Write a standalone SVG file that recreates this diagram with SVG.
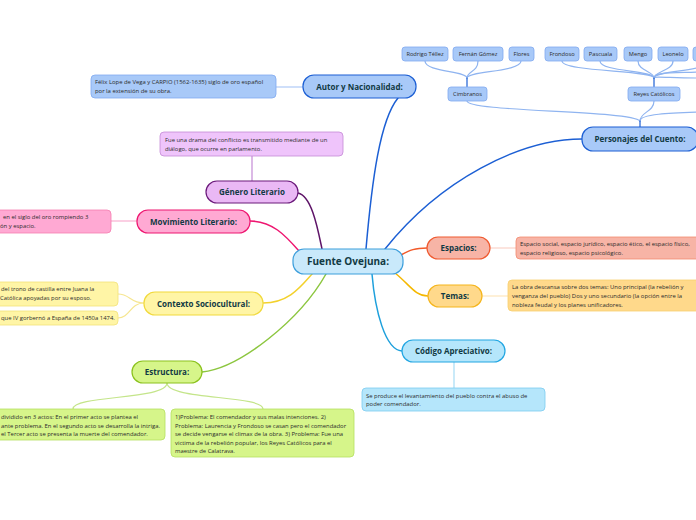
<svg xmlns="http://www.w3.org/2000/svg" width="696" height="520" viewBox="0 0 696 520">
<style>
text{font-family:"Open Sans","Liberation Sans",sans-serif;}
.h{font-weight:bold;font-size:8px;fill:#113a44;text-anchor:middle;}
.c{font-weight:bold;font-size:10px;fill:#113a44;text-anchor:middle;}
.t{font-size:5.9px;fill:#2b2b2b;}
.s{font-size:5.7px;fill:#2b2b2b;text-anchor:middle;}
.k{fill:none;stroke-linecap:round;}
</style>
<rect width="696" height="520" fill="#ffffff"/>
<g id="connectors" class="k">
  <path d="M366,249 C 372,180 380,120 398,98" stroke="#1c5fd4" stroke-width="1.5"/>
  <path d="M385,249 C 440,180 520,139 582,139" stroke="#1c5fd4" stroke-width="1.5"/>
  <path d="M298,193 C 312,196 318,230 322,249" stroke="#5e1468" stroke-width="1.5"/>
  <path d="M250,221 C 272,221 285,235 299,251" stroke="#ee1670" stroke-width="1.5"/>
  <path d="M263,303 C 290,303 302,285 313,273" stroke="#f3d12b" stroke-width="1.5"/>
  <path d="M202,372 C 240,368 300,320 326,274" stroke="#8cc63f" stroke-width="1.5"/>
  <path d="M401,255 C 410,250 415,248 427,248" stroke="#f25a2a" stroke-width="1.5"/>
  <path d="M395,273 C 410,285 415,296 428,296" stroke="#f5b800" stroke-width="1.5"/>
  <path d="M372,274 C 375,310 385,350 402,351" stroke="#1ea0dc" stroke-width="1.5"/>
  <path d="M276,87 L303,87" stroke="#9fc0f5" stroke-width="1.2"/>
  <path d="M252,156 L252,181" stroke="#c48ad6" stroke-width="1.2"/>
  <path d="M111,221 L137,221" stroke="#f7a0c8" stroke-width="1.2"/>
  <path d="M144,303 C 130,303 130,294 118,294" stroke="#f6e690" stroke-width="1.2"/>
  <path d="M144,303 C 130,303 130,318 118,318" stroke="#f6e690" stroke-width="1.2"/>
  <path d="M167,383 C 167,400 73,395 73,409" stroke="#c4e58a" stroke-width="1.2"/>
  <path d="M167,383 C 167,400 263,395 263,409" stroke="#c4e58a" stroke-width="1.2"/>
  <path d="M482,296 L508,296" stroke="#fde2b0" stroke-width="1.2"/>
  <path d="M490,248 L516,248" stroke="#f9c9bd" stroke-width="1.2"/>
  <path d="M454,362 L454,388" stroke="#a6dcf5" stroke-width="1.2"/>
  <path d="M467,101 C 467,112 630,110 640,121" stroke="#8fb4f0" stroke-width="1.2"/>
  <path d="M654,101 C 654,112 640,112 640,121" stroke="#8fb4f0" stroke-width="1.2"/>
  <path d="M700,112 C 670,113 640,114 640,121" stroke="#8fb4f0" stroke-width="1.2"/>
  <path d="M640,121 L640,127" stroke="#1c5fd4" stroke-width="1.2"/>
  <path d="M425,61 C 425,72 467,71 467,78" stroke="#8fb4f0" stroke-width="1.2"/>
  <path d="M478,61 C 478,72 467,71 467,78" stroke="#8fb4f0" stroke-width="1.2"/>
  <path d="M521,61 C 521,72 467,71 467,78" stroke="#8fb4f0" stroke-width="1.2"/>
  <path d="M467,78 L467,87" stroke="#1c5fd4" stroke-width="1.2"/>
  <path d="M562,61 C 562,72 654,70 654,78" stroke="#8fb4f0" stroke-width="1.2"/>
  <path d="M600,61 C 600,72 654,70 654,78" stroke="#8fb4f0" stroke-width="1.2"/>
  <path d="M638,61 C 638,71 654,71 654,78" stroke="#8fb4f0" stroke-width="1.2"/>
  <path d="M673,61 C 673,71 654,71 654,78" stroke="#8fb4f0" stroke-width="1.2"/>
  <path d="M708,61 C 708,72 654,70 654,78" stroke="#8fb4f0" stroke-width="1.2"/>
  <path d="M700,72 C 670,73 654,72 654,78" stroke="#8fb4f0" stroke-width="1.2"/>
  <path d="M700,78 C 670,78 654,76 654,78" stroke="#8fb4f0" stroke-width="1.2"/>
  <path d="M654,78 L654,87" stroke="#1c5fd4" stroke-width="1.2"/>
</g>
<g id="center">
  <rect x="293" y="249" width="110" height="25" rx="11" fill="#c9e9fb" stroke="#3d9fdc" stroke-width="1.2"/>
  <text class="c" x="348" y="265">Fuente Ovejuna:</text>
</g>
<g id="autor">
  <rect x="303" y="75" width="113" height="23" rx="11" fill="#a8c9f8" stroke="#1c5fd4" stroke-width="1.2"/>
  <text class="h" x="359.5" y="89.5">Autor y Nacionalidad:</text>
</g>
<g id="autor-detalle">
  <rect x="91" y="75" width="185" height="23" rx="4" fill="#a8c9f8" stroke="#80aaf0" stroke-width="0.8"/>
  <text class="t" x="95" y="84">Félix Lope de Vega y CARPIO (1562-1635) siglo de oro español</text>
  <text class="t" x="95" y="93">por la extensión de su obra.</text>
</g>
<g id="personajes">
  <rect x="582" y="127" width="116" height="24" rx="11" fill="#a8c9f8" stroke="#1c5fd4" stroke-width="1.2"/>
  <text class="h" x="640" y="142">Personajes del Cuento:</text>
</g>
<g id="cimbranos">
  <rect x="448" y="87" width="39" height="14" rx="3" fill="#a8c9f8" stroke="#80aaf0" stroke-width="0.8"/>
  <text class="s" x="467.5" y="96">Cimbranos</text>
</g>
<g id="reyes">
  <rect x="628" y="87" width="52" height="14" rx="3" fill="#a8c9f8" stroke="#80aaf0" stroke-width="0.8"/>
  <text class="s" x="654" y="96">Reyes Católicos</text>
</g>
<g id="rodrigo">
  <rect x="402" y="47" width="46" height="14" rx="3" fill="#a8c9f8" stroke="#80aaf0" stroke-width="0.8"/>
  <text class="s" x="425" y="56">Rodrigo Téllez</text>
</g>
<g id="fernan">
  <rect x="453" y="47" width="50" height="14" rx="3" fill="#a8c9f8" stroke="#80aaf0" stroke-width="0.8"/>
  <text class="s" x="478" y="56">Fernán Gómez</text>
</g>
<g id="flores">
  <rect x="509" y="47" width="25" height="14" rx="3" fill="#a8c9f8" stroke="#80aaf0" stroke-width="0.8"/>
  <text class="s" x="521.5" y="56">Flores</text>
</g>
<g id="frondoso">
  <rect x="545" y="47" width="34" height="14" rx="3" fill="#a8c9f8" stroke="#80aaf0" stroke-width="0.8"/>
  <text class="s" x="562" y="56">Frondoso</text>
</g>
<g id="pascuala">
  <rect x="584" y="47" width="33" height="14" rx="3" fill="#a8c9f8" stroke="#80aaf0" stroke-width="0.8"/>
  <text class="s" x="600.5" y="56">Pascuala</text>
</g>
<g id="mengo">
  <rect x="624" y="47" width="28" height="14" rx="3" fill="#a8c9f8" stroke="#80aaf0" stroke-width="0.8"/>
  <text class="s" x="638" y="56">Mengo</text>
</g>
<g id="leonelo">
  <rect x="658" y="47" width="30" height="14" rx="3" fill="#a8c9f8" stroke="#80aaf0" stroke-width="0.8"/>
  <text class="s" x="673" y="56">Leonelo</text>
</g>
<g id="otro">
  <rect x="693" y="47" width="30" height="14" rx="3" fill="#a8c9f8" stroke="#80aaf0" stroke-width="0.8"/>
</g>
<g id="genero">
  <rect x="206" y="181" width="92" height="22" rx="11" fill="#eab8f5" stroke="#6b1a7b" stroke-width="1.2"/>
  <text class="h" x="252" y="195">Género Literario</text>
</g>
<g id="genero-detalle">
  <rect x="160" y="132" width="183" height="24" rx="4" fill="#efc4fb" stroke="#c48ad6" stroke-width="0.8"/>
  <text class="t" x="165" y="141.5">Fue una drama del conflicto es transmitido mediante de un</text>
  <text class="t" x="165" y="150.5">diálogo, que ocurre en parlamento.</text>
</g>
<g id="movimiento">
  <rect x="137" y="210" width="113" height="23" rx="11" fill="#ffa9d3" stroke="#ee1670" stroke-width="1.2"/>
  <text class="h" x="193.5" y="224.5">Movimiento Literario:</text>
</g>
<g id="movimiento-detalle">
  <rect x="-80" y="210" width="191" height="23" rx="4" fill="#ffa9d3" stroke="#f57db0" stroke-width="0.8"/>
  <text class="t" x="3" y="218.5">en el siglo del oro rompiendo 3</text>
  <text class="t" x="0" y="227.5">ón y espacio.</text>
</g>
<g id="contexto">
  <rect x="144" y="292" width="119" height="23" rx="11" fill="#fff5a6" stroke="#f1d93c" stroke-width="1.2"/>
  <text class="h" x="203.5" y="306.5">Contexto Sociocultural:</text>
</g>
<g id="contexto-detalle-1">
  <rect x="-80" y="282" width="198" height="24" rx="4" fill="#fff5a6" stroke="#f3e27a" stroke-width="0.8"/>
  <text class="t" x="1" y="291">del trono de castilla entre Juana la</text>
  <text class="t" x="0" y="300">Católica apoyadas por su esposo.</text>
</g>
<g id="contexto-detalle-2">
  <rect x="-80" y="311" width="198" height="14" rx="4" fill="#fff5a6" stroke="#f3e27a" stroke-width="0.8"/>
  <text class="t" x="1" y="320">que IV gorbernó a España de 1450a 1474.</text>
</g>
<g id="estructura">
  <rect x="132" y="361" width="70" height="22" rx="11" fill="#d6f58a" stroke="#8bc21e" stroke-width="1.2"/>
  <text class="h" x="167" y="375">Estructura:</text>
</g>
<g id="estructura-detalle-1">
  <rect x="-100" y="409" width="265" height="31" rx="4" fill="#d6f58a" stroke="#b5df60" stroke-width="0.8"/>
  <text class="t" x="1" y="419">dividido en 3 actos: En el primer acto se plantea el</text>
  <text class="t" x="1" y="427.5">ante problema. En el segundo acto se desarrolla la intriga.</text>
  <text class="t" x="1" y="436">el Tercer acto se presenta la muerte del comendador.</text>
</g>
<g id="estructura-detalle-2">
  <rect x="171" y="409" width="183" height="48" rx="4" fill="#d6f58a" stroke="#b5df60" stroke-width="0.8"/>
  <text class="t" x="175" y="419">1)Problema: El comendador y sus malas intenciones. 2)</text>
  <text class="t" x="175" y="427.5">Problema: Laurencia y Frondoso se casan pero el comendador</text>
  <text class="t" x="175" y="436">se decide vengarse el climax de la obra. 3) Problema: Fue una</text>
  <text class="t" x="175" y="444.5">victima de la rebelión popular, los Reyes Católicos para el</text>
  <text class="t" x="175" y="453">maestre de Calatrava.</text>
</g>
<g id="espacios">
  <rect x="427" y="237" width="63" height="22" rx="11" fill="#f7b4a6" stroke="#ef5a30" stroke-width="1.2"/>
  <text class="h" x="458.5" y="251">Espacios:</text>
</g>
<g id="espacios-detalle">
  <rect x="516" y="237" width="200" height="22" rx="4" fill="#f7b4a6" stroke="#f38a70" stroke-width="0.8"/>
  <text class="t" x="520" y="245.5">Espacio social, espacio jurídico, espacio ético, el espacio físico,</text>
  <text class="t" x="520" y="254.5">espacio religioso, espacio psicológico.</text>
</g>
<g id="temas">
  <rect x="428" y="285" width="54" height="22" rx="11" fill="#ffd98b" stroke="#f5b51c" stroke-width="1.2"/>
  <text class="h" x="455" y="299">Temas:</text>
</g>
<g id="temas-detalle">
  <rect x="508" y="280" width="200" height="31" rx="4" fill="#ffd98b" stroke="#f7cf6e" stroke-width="0.8"/>
  <text class="t" x="512" y="289">La obra descansa sobre dos temas: Uno principal (la rebelión y</text>
  <text class="t" x="512" y="298">venganza del pueblo) Dos y uno secundario (la opción entre la</text>
  <text class="t" x="512" y="307">nobleza feudal y los planes unificadores.</text>
</g>
<g id="codigo">
  <rect x="402" y="340" width="103" height="22" rx="11" fill="#b5e6fb" stroke="#22a6e2" stroke-width="1.2"/>
  <text class="h" x="453.5" y="354">Código Apreciativo:</text>
</g>
<g id="codigo-detalle">
  <rect x="362" y="388" width="183" height="23" rx="4" fill="#b5e6fb" stroke="#7cccf0" stroke-width="0.8"/>
  <text class="t" x="366" y="397.5">Se produce el levantamiento del pueblo contra el abuso de</text>
  <text class="t" x="366" y="406">poder comendador.</text>
</g>
</svg>
